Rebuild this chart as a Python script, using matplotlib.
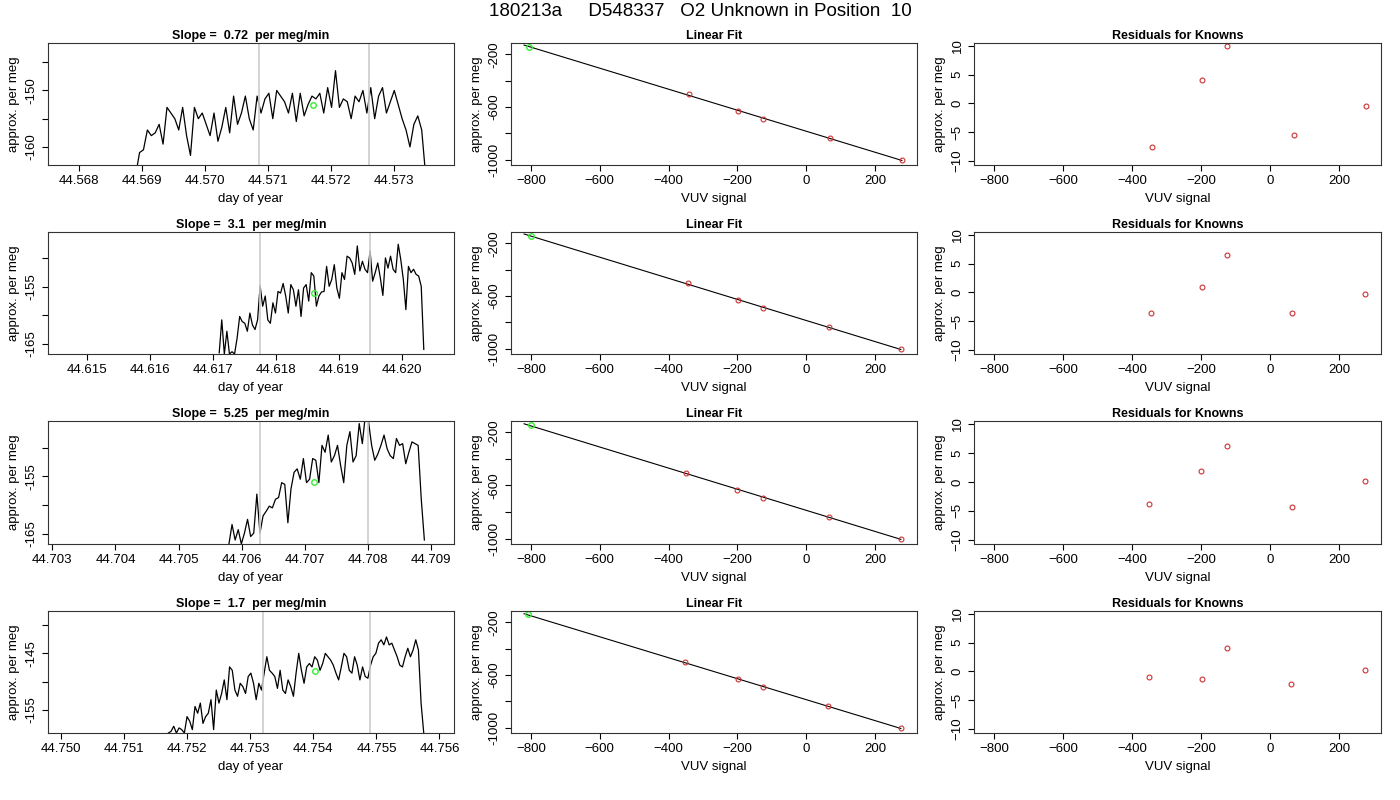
import numpy as np
import matplotlib
matplotlib.use("Agg")
import matplotlib.pyplot as plt

plt.rcParams['font.family'] = ['Liberation Sans', 'DejaVu Sans']
plt.rcParams['font.size'] = 9

title = "180213a     D548337   O2 Unknown in Position  10"
slopes = ["0.72", "3.1", "5.25", "1.7"]

ts1 = [-165, -161, -160.5, -157, -158, -157.5, -156, -159.5, -153, -154, -155, -157, -153, -158, -161.5,
       -153, -155, -154, -156, -158, -154, -159, -156.5, -153, -157.5, -151, -156, -154, -151, -155, -157,
       -151, -154, -151.5, -150.5, -155, -150, -151, -152, -154, -150.5, -155.5, -150.5, -154.5, -152.5,
       -151, -151.5, -150.5, -154, -149.5, -153, -146.5, -153, -151.5, -152, -155, -151, -152, -150, -154,
       -149.5, -155, -151, -149.5, -154, -152, -150, -152.5, -155, -157, -160, -156, -154.5, -157, -165]
ts2 = [-166.6, -160.8, -166.8, -162.8, -166.8, -166.4, -166.8, -164, -160.2, -161.1, -161.4, -162.8, -159.6,
       -161.7, -162.5, -160.8, -154.8, -158.4, -156.6, -160.8, -161.4, -157.8, -159.6, -155.8, -156.1, -154.4,
       -156.6, -159.6, -154.6, -155.5, -158.4, -155.5, -160.2, -155.2, -154.6, -157.5, -152.5, -153.1, -158.4,
       -156.6, -155.9, -155.8, -151.4, -154.9, -153.7, -151.1, -155.2, -157, -152.5, -153.7, -149.6, -149.9,
       -150.8, -152.8, -147.8, -152.2, -150.5, -151.9, -152.5, -148.7, -154, -152.5, -150.8, -153.4, -156.5,
       -149.9, -151.7, -149.6, -151.9, -152.5, -147.5, -150.2, -153.7, -159, -151.4, -152.5, -151.9, -152.8,
       -153.1, -154.9, -166]
ts3 = [-166.8, -163.4, -166.1, -164.3, -166.8, -164.9, -162.5, -165.5, -164.9, -158.1, -164.9, -161.9,
       -161.1, -160.2, -160.5, -159, -158.7, -156.1, -156.4, -163.1, -157.2, -154.3, -153.7, -155.5, -151.9,
       -156.1, -155.5, -151.9, -152.2, -156.1, -149.6, -150.8, -147.8, -152.5, -151.4, -149.6, -153.1, -156.1,
       -149.6, -147.2, -152.5, -151.4, -145.8, -149.3, -144.2, -145.5, -149.6, -152.2, -151.1, -149.6,
       -147.8, -150.2, -151.4, -151.9, -148.4, -149.6, -149.3, -152.8, -150.8, -149, -149.3, -149.6, -159, -166.1]
ts4 = [-159.1, -158.8, -157.9, -159.1, -158.2, -158.5, -159.1, -156.2, -157, -158.5, -154.4, -155.6, -153.8,
       -157.4, -156.2, -155.6, -153.2, -158.5, -151.5, -153.8, -152.1, -149.7, -153.2, -147.4, -148, -151.5,
       -152.6, -150.3, -150.9, -152.1, -149.1, -148.5, -150.3, -153.2, -150.3, -151.5, -148.5, -145.6, -148,
       -148.5, -149.1, -151.2, -148, -151.5, -152.1, -149.7, -150.9, -152.6, -148.5, -145, -148, -150.3, -147.4,
       -146.8, -147.4, -145.6, -146.2, -148, -146.8, -145, -145.6, -146.2, -147.1, -148.5, -149.7, -147.4, -145,
       -145.6, -148, -148.5, -145.6, -147.1, -149.7, -147.4, -149.1, -149.4, -147.1, -145.6, -145, -143.2,
       -142.6, -143.5, -142.1, -143.5, -143.2, -144.4, -145.6, -147.1, -147.4, -145.6, -144.1, -145.6, -144.4,
       -142.6, -144.4, -153.8, -159.1]
series = [ts1, ts2, ts3, ts4]
t_start = [44.5689, 44.6171, 44.7058, 44.7517]
t_end = [44.5735, 44.62035, 44.7089, 44.75575]
xlims = [(44.56751, 44.57395), (44.61438, 44.62083), (44.70293, 44.70937), (44.74979, 44.75623)]
ylims = [(-163.2, -141.6), (-166.8, -145.35), (-166.8, -145.35), (-159.1, -137.5)]
ytick_lab = [[-160, -150], [-165, -155], [-165, -155], [-155, -145]]
ytick_all = [[-160, -155, -150, -145], [-165, -160, -155, -150], [-165, -160, -155, -150], [-155, -150, -145, -140]]
xticks_ts = [np.arange(44.568, 44.5731, 0.001), np.arange(44.615, 44.6201, 0.001),
             np.arange(44.703, 44.7091, 0.001), np.arange(44.750, 44.7561, 0.001)]
vlines = [(44.57085, 44.5726), (44.61775, 44.6195), (44.7063, 44.7080), (44.7532, 44.7549)]
green_ts = [(44.57172, -152.5), (44.6186, -156.1), (44.70715, -156), (44.75402, -148.2)]

vuv = [[-342, -197, -125, 70, 278], [-345, -197, -125, 65, 275],
       [-350, -200, -125, 65, 275], [-352, -197, -125, 62, 275]]
known = [[-504, -632, -693, -834, -1005], [-504, -632, -693, -834, -1005],
         [-504, -632, -693, -834, -1005], [-504, -632, -693, -834, -1005]]
green_fit = [(-805, -144), (-800, -144), (-800, -146), (-810, -140)]
resid = [[-7.5, 4, 10, -5.5, -0.5], [-3.5, 1, 6.5, -3.5, -0.2],
         [-3.8, 1.8, 6.2, -4.3, 0.2], [-1, -1.3, 4, -2.2, 0.2]]

fig = plt.figure(figsize=(14, 8), dpi=100)
W, H = 1400, 800
cols = [(48, 454), (511, 917), (974, 1381)]
rows = [(43, 165), (232, 354), (421, 544), (611, 733)]
fig.suptitle(title, y=1 - 12 / H, fontsize=13.5, va='center')

def ax_at(c, r):
    (l, rr), (t, b) = cols[c], rows[r]
    return fig.add_axes([l / W, 1 - b / H, (rr - l) / W, (b - t) / H])

def style(ax):
    for s in ax.spines.values():
        s.set_color('#333333')
    ax.tick_params(direction='out', length=4, labelsize=9.5)
    for lab in ax.get_yticklabels():
        lab.set_rotation(90)
        lab.set_va('center')

red = dict(mfc='none', mec='#cc3333', ms=3.5, mew=0.8, ls='none', marker='o')
green = dict(mfc='none', mec='#33ee33', ms=4, mew=1, ls='none', marker='o')

for r in range(4):
    ax = ax_at(0, r)
    y = series[r]
    x = np.linspace(t_start[r], t_end[r], len(y))
    ax.plot(x, y, color='black', lw=0.9)
    for v in vlines[r]:
        ax.axvline(v, color='#cccccc', lw=1.2)
    ax.plot(*green_ts[r], **green)
    ax.set_xlim(*xlims[r]); ax.set_ylim(*ylims[r])
    ax.set_xticks(xticks_ts[r])
    ax.set_xticklabels([f"{v:.3f}" for v in xticks_ts[r]])
    ax.set_yticks(ytick_all[r])
    ax.set_yticklabels([str(v) if v in ytick_lab[r] else '' for v in ytick_all[r]])
    ax.set_xlabel('day of year', fontsize=9.5); ax.set_ylabel('approx. per meg', fontsize=9.5)
    ax.set_title(f"Slope =  {slopes[r]}  per meg/min", fontweight='bold', fontsize=9, pad=3)
    style(ax)

    ax = ax_at(1, r)
    p = np.polyfit(vuv[r], known[r], 1)
    xl = np.array([-820, max(vuv[r])])
    ax.plot(xl, np.polyval(p, xl), color='black', lw=0.8)
    ax.plot(vuv[r], known[r], **red)
    ax.plot(*green_fit[r], **green)
    ax.set_xlim(-858, 322); ax.set_ylim(-1040, -115)
    ax.set_xticks(range(-800, 201, 200))
    ax.set_yticks([-1000, -800, -600, -400, -200])
    ax.set_yticklabels(['-1000', '', '-600', '', '-200'])
    ax.set_xlabel('VUV signal', fontsize=9.5); ax.set_ylabel('approx. per meg', fontsize=9.5)
    ax.set_title('Linear Fit', fontweight='bold', fontsize=9, pad=3)
    style(ax)

    ax = ax_at(2, r)
    ax.plot(vuv[r], resid[r], **red)
    ax.set_xlim(-858, 322); ax.set_ylim(-10.7, 10.5)
    ax.set_xticks(range(-800, 201, 200))
    ax.set_yticks([-10, -5, 0, 5, 10])
    ax.set_xlabel('VUV signal', fontsize=9.5); ax.set_ylabel('approx. per meg', fontsize=9.5)
    ax.set_title('Residuals for Knowns', fontweight='bold', fontsize=9, pad=3)
    style(ax)

fig.savefig('out.png', dpi=100)
